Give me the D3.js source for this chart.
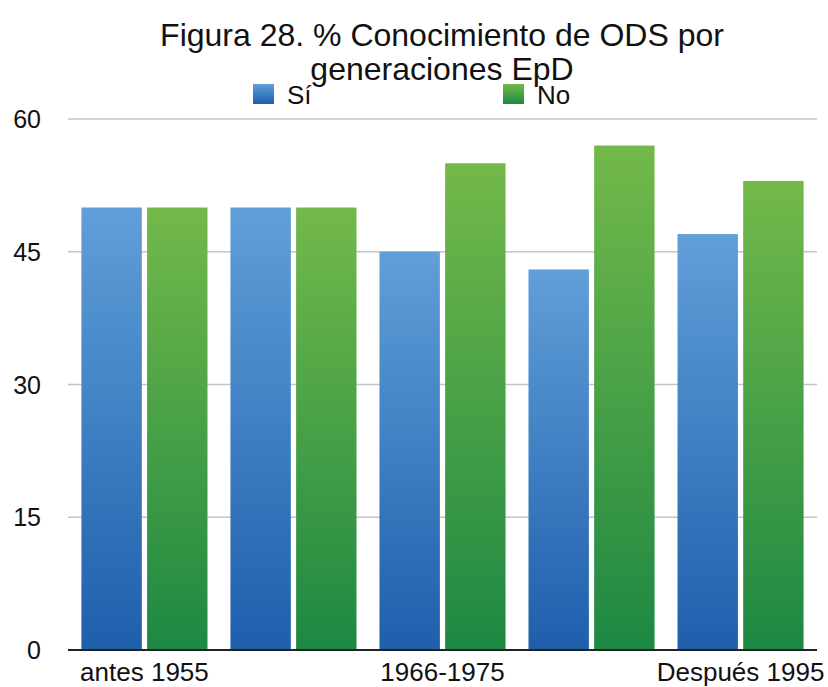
<!DOCTYPE html>
<html><head><meta charset="utf-8">
<script src="https://cdn.jsdelivr.net/npm/d3@7"></script>
<style>body{margin:0;background:#fff;font-family:"Liberation Sans",Arial,sans-serif;}</style>
</head><body><svg id="c" width="828" height="687"></svg>
<script>
const categories = ["antes 1955", "1956-1965", "1966-1975", "1976-1995", "Después 1995"];
const shownLabels = ["antes 1955", "1966-1975", "Después 1995"];
const series = ["Sí", "No"];
const siValues = [50, 50, 45, 43, 47];
const noValues = [50, 50, 55, 57, 53];
const yTicks = [0, 15, 30, 45, 60];

const svg = d3.select("#c");
const m = {l: 68, r: 11, t: 119, b: 37};
const W = 828, H = 687;
const x = d3.scaleBand().domain(categories).range([m.l, W - m.r]).paddingInner(0.154).paddingOuter(0.09);
const x1 = d3.scaleBand().domain(series).range([0, x.bandwidth()]).paddingInner(0.08);
const y = d3.scaleLinear().domain([0, 60]).range([H - m.b, m.t]);

const defs = svg.append("defs");
function grad(id, top, bot) {
  const g = defs.append("linearGradient").attr("id", id).attr("x1", 0).attr("y1", 0).attr("x2", 0).attr("y2", 1);
  g.append("stop").attr("offset", "0%").attr("stop-color", top);
  g.append("stop").attr("offset", "100%").attr("stop-color", bot);
}
grad("gSi", "#609fd8", "#1f5eac");
grad("gNo", "#73b94a", "#1d8843");
const fills = {"Sí": "url(#gSi)", "No": "url(#gNo)"};

// gridlines
svg.append("g").selectAll("line").data(yTicks.filter(d => d > 0)).join("line")
  .attr("x1", m.l).attr("x2", W - m.r)
  .attr("y1", d => y(d)).attr("y2", d => y(d))
  .attr("stroke", "#c4c4c4").attr("stroke-width", 1.5);

// bars
const data = categories.map((c, i) => ({c, v: {"Sí": siValues[i], "No": noValues[i]}}));
svg.append("g").selectAll("g").data(data).join("g")
  .attr("transform", d => `translate(${x(d.c)},0)`)
  .selectAll("rect").data(d => series.map(s => ({s, v: d.v[s]}))).join("rect")
  .attr("x", d => x1(d.s)).attr("width", x1.bandwidth())
  .attr("y", d => y(d.v)).attr("height", d => y(0) - y(d.v))
  .attr("fill", d => fills[d.s]);

// baseline
svg.append("line").attr("x1", m.l).attr("x2", W - m.r).attr("y1", y(0)).attr("y2", y(0))
  .attr("stroke", "#222").attr("stroke-width", 2);

// y tick labels
svg.append("g").selectAll("text").data(yTicks).join("text")
  .attr("x", 41).attr("y", d => y(d) + 9).attr("text-anchor", "end")
  .attr("font-size", 25).attr("fill", "#111").text(d => d);

// x labels
svg.append("g").selectAll("text").data(categories.filter(c => shownLabels.includes(c))).join("text")
  .attr("x", d => x(d) + x.bandwidth() / 2).attr("y", 681).attr("text-anchor", "middle")
  .attr("font-size", 26).attr("fill", "#111").text(d => d);

// title
const t = svg.append("text").attr("text-anchor", "middle").attr("font-size", 32).attr("fill", "#111");
t.append("tspan").attr("x", 442).attr("y", 46).text("Figura 28. % Conocimiento de ODS por");
t.append("tspan").attr("x", 442).attr("y", 80).text("generaciones EpD");

// legend
const leg = [{s: "Sí", x: 253, tx: 287}, {s: "No", x: 503, tx: 537}];
leg.forEach(l => {
  svg.append("rect").attr("x", l.x).attr("y", 84).attr("width", 21).attr("height", 20).attr("fill", fills[l.s]);
  svg.append("text").attr("x", l.tx).attr("y", 104).attr("font-size", 26).attr("fill", "#111").text(l.s);
});
</script></body></html>
